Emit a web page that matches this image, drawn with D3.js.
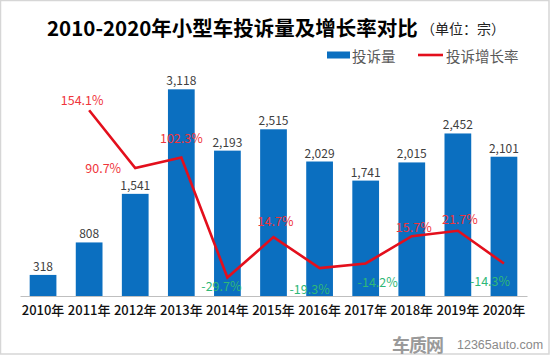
<!DOCTYPE html>
<html><head><meta charset="utf-8">
<script src="https://cdn.jsdelivr.net/npm/d3@7"></script>
<style>html,body{margin:0;padding:0;background:#fff;} svg{display:block;}</style>
</head><body>
<svg id="c" width="550" height="356"></svg>
<script>
const years = ["2010年","2011年","2012年","2013年","2014年","2015年","2016年","2017年","2018年","2019年","2020年"];
const complaints = [318, 808, 1541, 3118, 2193, 2515, 2029, 1741, 2015, 2452, 2101];
const rateYears = ["2011年","2012年","2013年","2014年","2015年","2016年","2017年","2018年","2019年","2020年"];
const rates = [154.1, 90.7, 102.3, -29.7, 14.7, -19.3, -14.2, 15.7, 21.7, -14.3];
// label placement offsets (dx, dy) for rate labels, relative to the point
const rateLabelDx = [-7, -32, 0, -6, 2, -10, 12, 2, 2, -14];
const rateLabelDy = [-11, 0, -20, 8, -17, 20, 18, -10, -12, 17];
const titleText = "2010-2020年小型车投诉量及增长率对比";
const unitText = "（单位：宗）";
const legendBar = "投诉量";
const legendLine = "投诉增长率";

const FONT = "'Noto Sans CJK SC','Noto Sans',sans-serif";
const svg = d3.select("#c");

// border
svg.append("rect").attr("x",0.5).attr("y",0.5).attr("width",548.5).attr("height",353.5)
  .attr("fill","#fff").attr("stroke","#d6d6d6").attr("stroke-width",1.5);

const x = d3.scaleBand().domain(years).range([20, 527]).paddingInner(0.42).paddingOuter(0.21);
const y = d3.scaleLinear().domain([0, 3500]).range([296, 64]);
const y2 = d3.scaleLinear().domain([-50, 205]).range([296, 64]);

// bars
svg.append("g").selectAll("rect").data(complaints).join("rect")
  .attr("x",(d,i)=>x(years[i])).attr("width",x.bandwidth())
  .attr("y",d=>y(d)).attr("height",d=>y(0)-y(d)).attr("fill","#0b6fc0");

// axis
const ax = svg.append("g").attr("transform","translate(0,296)")
  .call(d3.axisBottom(x).tickSize(0).tickPadding(8));
ax.select(".domain").attr("stroke","#bfbfbf").attr("stroke-width",1.2);
ax.selectAll("text").attr("font-family",FONT).attr("font-size",13).attr("fill","#111").attr("font-weight",500).attr("dy","0.85em");

// bar value labels
svg.append("g").selectAll("text").data(complaints).join("text")
  .attr("x",(d,i)=>x(years[i])+x.bandwidth()/2).attr("y",d=>y(d)-4)
  .attr("text-anchor","middle").attr("font-family",FONT).attr("font-size",12)
  .attr("fill","#404040").text(d=>d3.format(",")(d));

// line
const cx = d=>x(d)+x.bandwidth()/2;
const line = d3.line().x((d,i)=>cx(rateYears[i])).y(d=>y2(d));
svg.append("path").datum(rates).attr("d",line).attr("fill","none")
  .attr("stroke","#e30f1c").attr("stroke-width",2.6).attr("stroke-linejoin","miter");

// rate labels
svg.append("g").selectAll("text").data(rates).join("text")
  .attr("x",(d,i)=>cx(rateYears[i])+rateLabelDx[i]).attr("y",(d,i)=>y2(d)+rateLabelDy[i])
  .attr("text-anchor","middle").attr("dominant-baseline","central")
  .attr("font-family",FONT).attr("font-size",12.5)
  .attr("fill",d=>d<0?"#2fb878":"#f0353b").text(d=>d.toFixed(1)+"%");

// title
svg.append("text").attr("x",47).attr("y",27).attr("dominant-baseline","central")
  .attr("font-family",FONT).attr("font-size",20.5).attr("font-weight",700).attr("fill","#000")
  .text(titleText);
svg.append("text").attr("x",421).attr("y",28).attr("dominant-baseline","central")
  .attr("font-family",FONT).attr("font-size",14).attr("fill","#222").text(unitText);

// legend
svg.append("rect").attr("x",327).attr("y",51.5).attr("width",23).attr("height",7).attr("fill","#0b6fc0");
svg.append("text").attr("x",352).attr("y",55).attr("dominant-baseline","central")
  .attr("font-family",FONT).attr("font-size",14.5).attr("fill","#595959").text(legendBar);
svg.append("line").attr("x1",418).attr("x2",443).attr("y1",55).attr("y2",55)
  .attr("stroke","#e30f1c").attr("stroke-width",2.6);
svg.append("text").attr("x",446).attr("y",55).attr("dominant-baseline","central")
  .attr("font-family",FONT).attr("font-size",14.5).attr("fill","#595959").text(legendLine);

// watermark
svg.append("text").attr("x",392).attr("y",344).attr("dominant-baseline","central")
  .attr("font-family",FONT).attr("font-size",18).attr("font-weight",700).attr("fill","#9a9a9a")
  .attr("letter-spacing",-1).text("车质网");
svg.append("text").attr("x",457).attr("y",345).attr("dominant-baseline","central")
  .attr("font-family","'Liberation Sans',Arial,sans-serif").attr("font-size",12.5).attr("fill","#8a8a8a")
  .text("12365auto.com");
</script>
</body></html>
